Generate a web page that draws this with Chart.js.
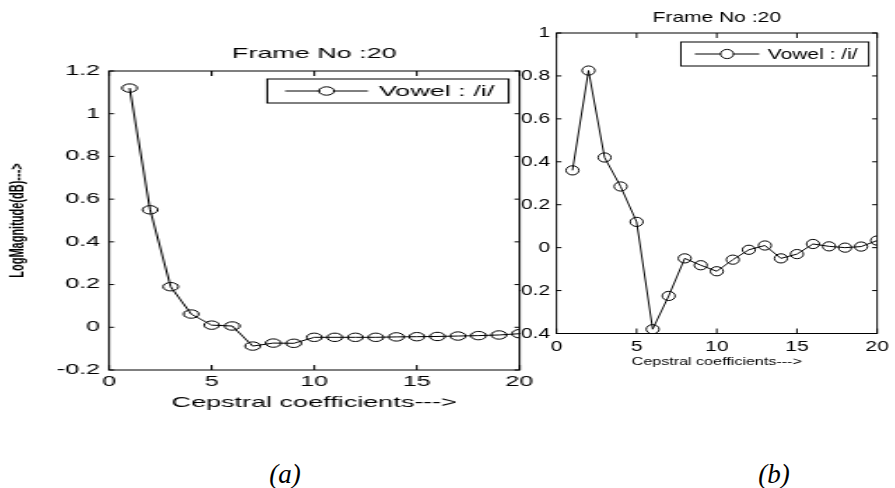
<!DOCTYPE html>
<html>
<head>
<meta charset="utf-8">
<script src="https://cdn.jsdelivr.net/npm/chart.js@4.4.1/dist/chart.umd.min.js"></script>
<style>
  html, body { margin: 0; padding: 0; background: #fff; }
  body { width: 895px; height: 488px; position: relative; overflow: hidden; }
  canvas { position: absolute; top: 0; transform-origin: 0 0; }
  #left { left: 0; transform: scaleX(1.8); z-index: 2; }
  #right { left: 480px; transform: scaleX(1.4); z-index: 1; }
  .cap { position: absolute; width: 60px; text-align: center; line-height: 27px;
         font: italic 27px "Liberation Serif", "DejaVu Serif", serif; color: #000; }
</style>
</head>
<body>
<canvas id="left" width="300" height="488"></canvas>
<canvas id="right" width="296" height="488"></canvas>
<div class="cap" style="left:255px;top:459px">(a)</div>
<div class="cap" style="left:744px;top:459px">(b)</div>
<script>
// cepstral coefficient index (shared by both panels)
const coeffs = [1, 2, 3, 4, 5, 6, 7, 8, 9, 10, 11, 12, 13, 14, 15, 16, 17, 18, 19, 20];

// panel (a)
const vowelA = [1.12, 0.55, 0.19, 0.062, 0.01, 0.006, -0.088, -0.074, -0.075, -0.047,
                -0.047, -0.047, -0.047, -0.045, -0.044, -0.043, -0.041, -0.039, -0.036, -0.03];
// panel (b)
const vowelB = [0.36, 0.825, 0.42, 0.285, 0.12, -0.38, -0.225, -0.05, -0.082, -0.11,
                -0.056, -0.01, 0.01, -0.05, -0.03, 0.017, 0.006, 0, 0.005, 0.033];

const xTicks = [0, 5, 10, 15, 20];
const yRangeA = [-0.2, 1.2];
const yRangeB = [-0.4, 1];

const seriesName = 'Vowel : /i/';
const frameTitle = 'Frame No :20';
const xTitle = 'Cepstral coefficients--->';
const yTitleA = 'LogMagnitude(dB)--->';

const FONT = '"Liberation Sans", Arial, Helvetica, sans-serif';

// matlab-ish number format: 1, 0.8, 0, -0.2
const fmt = v => {
  const r = Math.round(v * 10) / 10;
  return r === 0 ? '0' : String(r);
};

// white plot area, full box, inward ticks, title above the box, boxed legend
const matlabFrame = {
  id: 'matlabFrame',
  beforeDraw(chart) {
    const { ctx, chartArea: a } = chart;
    ctx.save();
    ctx.fillStyle = '#fff';
    ctx.fillRect(a.left, a.top, a.width, a.height);
    ctx.restore();
  },
  afterDraw(chart, args, o) {
    const { ctx, chartArea: a, scales } = chart;
    const x = scales.x, y = scales.y;
    ctx.save();
    ctx.strokeStyle = '#000';
    ctx.lineWidth = 1;
    ctx.strokeRect(a.left, a.top, a.width, a.height);

    ctx.beginPath();
    x.ticks.forEach(t => {
      const px = x.getPixelForValue(t.value);
      ctx.moveTo(px, a.bottom); ctx.lineTo(px, a.bottom - 5);
      ctx.moveTo(px, a.top); ctx.lineTo(px, a.top + 5);
    });
    y.ticks.forEach(t => {
      const py = y.getPixelForValue(t.value);
      ctx.moveTo(a.left, py); ctx.lineTo(a.left + 5 / o.sx, py);
      ctx.moveTo(a.right, py); ctx.lineTo(a.right - 5 / o.sx, py);
    });
    ctx.stroke();

    ctx.fillStyle = '#000';
    ctx.textAlign = 'center';
    ctx.textBaseline = 'middle';
    ctx.font = `${o.titleSize}px ${FONT}`;
    ctx.fillText(o.title, (a.left + a.right) / 2, a.top - o.titleGap);

    // legend
    const ds = chart.data.datasets[0];
    ctx.font = `${o.legendSize}px ${FONT}`;
    const tw = ctx.measureText(ds.label).width;
    const bw = 62 + tw + 8, bh = 24;
    const bx = a.right - 6 - bw, by = a.top + o.legendTop;
    const cy = by + bh / 2;
    ctx.fillStyle = '#fff';
    ctx.fillRect(bx, by, bw, bh);
    ctx.strokeRect(bx, by, bw, bh);
    ctx.beginPath();
    ctx.moveTo(bx + 10, cy); ctx.lineTo(bx + 56, cy);
    ctx.stroke();
    ctx.beginPath();
    ctx.arc(bx + 33, cy, ds.pointRadius, 0, Math.PI * 2);
    ctx.fill();
    ctx.stroke();
    ctx.fillStyle = '#000';
    ctx.textAlign = 'left';
    ctx.fillText(ds.label, bx + 62, cy + 1);
    ctx.restore();
  }
};

function makeChart(id, values, yRange, cfg) {
  return new Chart(document.getElementById(id), {
    type: 'line',
    data: {
      datasets: [{
        label: seriesName,
        data: coeffs.map((c, i) => ({ x: c, y: values[i] })),
        borderColor: '#000',
        borderWidth: 1,
        backgroundColor: '#fff',
        pointBackgroundColor: 'rgba(0,0,0,0)',
        pointBorderColor: '#000',
        pointBorderWidth: 1,
        pointRadius: cfg.pointR,
        tension: 0
      }]
    },
    options: {
      responsive: false,
      animation: false,
      devicePixelRatio: 1,
      layout: { padding: cfg.padding },
      scales: {
        x: {
          type: 'linear',
          min: 0, max: 20,
          afterBuildTicks: axis => { axis.ticks = xTicks.map(v => ({ value: v })); },
          afterFit: axis => { axis.height = cfg.xHeight; },
          grid: { display: false, drawTicks: false },
          border: { display: false },
          ticks: { color: '#000', padding: cfg.xTickPad, maxRotation: 0,
                   font: { family: FONT, size: cfg.tickSize } },
          title: { display: true, text: xTitle, color: '#000', padding: 0,
                   font: { family: FONT, size: cfg.xTitleSize } }
        },
        y: {
          min: yRange[0], max: yRange[1],
          ticks: { stepSize: 0.2, color: '#000', padding: cfg.yTickPad, callback: fmt,
                   font: { family: FONT, size: cfg.tickSize } },
          afterFit: axis => { axis.width = cfg.yWidth; },
          grid: { display: false, drawTicks: false },
          border: { display: false },
          title: cfg.yTitle
        }
      },
      plugins: {
        legend: { display: false },
        tooltip: { enabled: false },
        matlabFrame: {
          sx: cfg.sx, title: frameTitle, titleSize: cfg.titleSize, titleGap: cfg.titleGap,
          legendSize: cfg.legendSize, legendTop: cfg.legendTop
        }
      }
    },
    plugins: [matlabFrame]
  });
}

makeChart('right', vowelB, yRangeB, {
  sx: 1.4, pointR: 4.6,
  padding: { top: 33, bottom: 119.5, left: 0, right: 8.1 },
  xHeight: 35, xTickPad: 4, yWidth: 54.6, yTickPad: 4.6,
  tickSize: 15, xTitleSize: 11.5, titleSize: 15, titleGap: 15.5,
  legendSize: 15, legendTop: 9,
  yTitle: { display: false }
});

makeChart('left', vowelA, yRangeA, {
  sx: 1.8, pointR: 4.2,
  padding: { top: 71, bottom: 76, left: 0, right: 10.6 },
  xHeight: 42, xTickPad: 3.6, yWidth: 60.6, yTickPad: 5,
  tickSize: 14, xTitleSize: 15, titleSize: 15, titleGap: 17,
  legendSize: 15, legendTop: 8,
  yTitle: { display: true, text: yTitleA, color: '#000', padding: { top: 3.4, bottom: 0 },
            font: { family: FONT, size: 11, weight: 'bold' } }
});
</script>
</body>
</html>
